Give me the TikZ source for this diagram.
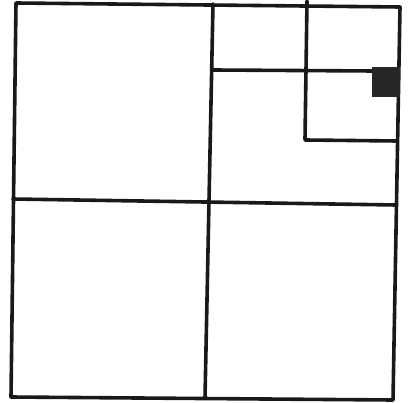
\documentclass[tikz,border=0pt]{standalone}
\begin{document}
\begin{tikzpicture}[x=1pt,y=-1pt,
  pen/.style={line width=3.6pt,line cap=round,line join=round,black!90}]
\useasboundingbox (0,0) rectangle (409,403);
% outer frame
\coordinate (tl) at (16,3);
\coordinate (tr) at (400,7);
\coordinate (br) at (393,400);
\coordinate (bl) at (11,397);
\draw[pen] (tl) -- (tr) -- (br) -- (bl) -- cycle;
% middle cross
\draw[pen] (213,4) -- (205,398);
\draw[pen] (13,199) -- (396,205);
% upper right subdivision
\draw[pen] (213,70) -- (374,71);
\draw[pen] (307,1) -- (305,139);
\draw[pen] (305,140) -- (397,141);
% filled small square
\fill[black!85] (372,67) rectangle (400,97);
\end{tikzpicture}
\end{document}
